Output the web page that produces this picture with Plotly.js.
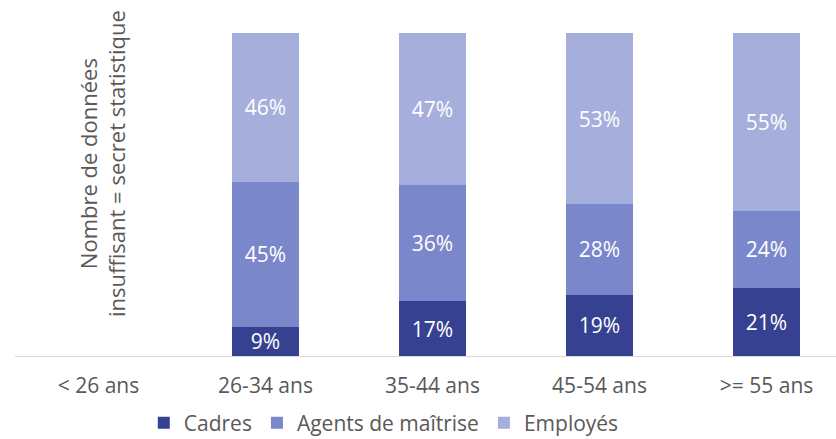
<!DOCTYPE html>
<html><head><meta charset="utf-8">
<script src="https://cdn.plot.ly/plotly-3.0.1.min.js"></script>
<style>html,body{margin:0;padding:0;background:#fff}#chart{width:836px;height:439px}</style>
</head><body><div id="chart"></div>
<script>
const categories = ["< 26 ans", "26-34 ans", "35-44 ans", "45-54 ans", ">= 55 ans"];
const cadres = [null, 9, 17, 19, 21];
const agents = [null, 45, 36, 28, 24];
const employes = [null, 46, 47, 53, 55];
const seriesNames = ["Cadres", "Agents de maîtrise", "Employés"];
const colors = ["#374191", "#7B87CB", "#A6AEDB"];
const noteText = "Nombre de données<br>insuffisant = secret statistique";

const font = "'Open Sans', sans-serif";
const series = [cadres, agents, employes];
const traces = series.map((vals, i) => ({
  type: "bar",
  name: seriesNames[i],
  x: categories,
  y: vals,
  width: 0.4,
  marker: {color: colors[i], line: {width: 0}},
  text: vals.map(v => v == null ? "" : v + "%"),
  textposition: "inside",
  insidetextanchor: "middle",
  constraintext: "none",
  cliponaxis: false,
  textangle: 0,
  textfont: {color: "#ffffff", size: 21, family: font},
  hoverinfo: "skip"
}));

const layout = {
  barmode: "stack",
  width: 836, height: 439,
  margin: {l: 15, r: 0, t: 33, b: 83},
  paper_bgcolor: "#ffffff", plot_bgcolor: "#ffffff",
  font: {family: font, color: "#595959"},
  showlegend: true,
  legend: {orientation: "h", xref: "container", yref: "container",
           x: 0.172, xanchor: "left", y: 0.036, yanchor: "middle",
           font: {size: 21, color: "#595959", family: font}, traceorder: "normal"},
  xaxis: {type: "category", range: [-0.5, 4.416], showline: true, linecolor: "#d9d9d9",
          linewidth: 1, ticks: "", showgrid: false, zeroline: false,
          tickfont: {size: 21, color: "#595959", family: font}, ticklabelstandoff: 11},
  yaxis: {range: [0, 100], visible: false, showgrid: false, zeroline: false},
  annotations: [{
    text: noteText, xref: "x", yref: "paper", x: 0.02, y: 0.597,
    textangle: -90, showarrow: false, align: "center",
    font: {size: 22, color: "#595959", family: font}
  }]
};
Plotly.newPlot("chart", traces, layout, {displayModeBar: false, staticPlot: true});
</script></body></html>
